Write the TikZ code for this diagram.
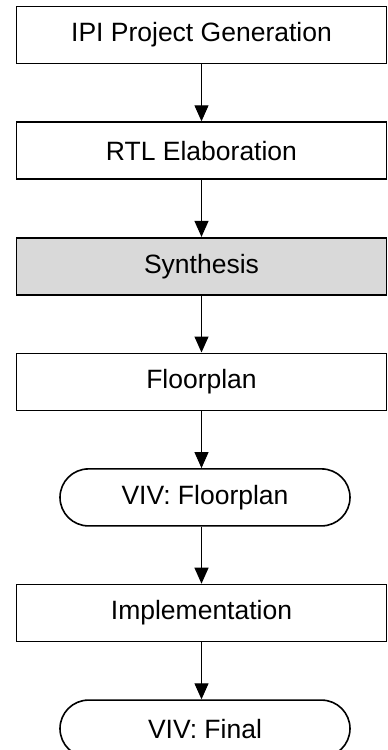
\documentclass[tikz,border=0pt]{standalone}
\usepackage{fontspec}
\setmainfont{Liberation Sans}
\usepackage{tikz}
\usetikzlibrary{arrows.meta,positioning,shapes.misc}

\begin{document}
\begin{tikzpicture}[
x=1pt, y=1pt,
node distance=57pt,
box/.style={draw, line width=1.6pt, minimum width=370pt, minimum height=57pt, inner sep=0pt, font=\fontsize{26.5}{30}\selectfont, fill=white},
graybox/.style={box, fill=black!15},
term/.style={draw, rounded rectangle, line width=1.6pt, minimum width=290pt, minimum height=57pt, inner sep=0pt, font=\fontsize{26.5}{30}\selectfont, xshift=3.5pt},
arr/.style={-{Triangle[length=16pt, width=14pt]}, line width=1.1pt}
]
\useasboundingbox (0,0) rectangle (388,-750);
\node[box] (ipi) at (201.5,-35) {IPI Project Generation};
\node[box, below=of ipi] (rtl) {RTL Elaboration};
\node[graybox, below=of rtl] (synth) {Synthesis};
\node[box, below=of synth] (floor) {Floorplan};
\node[term, below=of floor] (vivfloor) {VIV: Floorplan};
\node[box, below=of vivfloor, xshift=-3.5pt] (impl) {Implementation};
\node[term, below=of impl] (vivfinal) {VIV: Final};
\draw[arr] (ipi) -- (rtl);
\draw[arr] (rtl) -- (synth);
\draw[arr] (synth) -- (floor);
\draw[arr] (floor) -- (vivfloor.north -| floor.south);
\draw[arr] (vivfloor.south -| impl.north) -- (impl);
\draw[arr] (impl) -- (vivfinal.north -| impl.south);
\end{tikzpicture}
\end{document}
